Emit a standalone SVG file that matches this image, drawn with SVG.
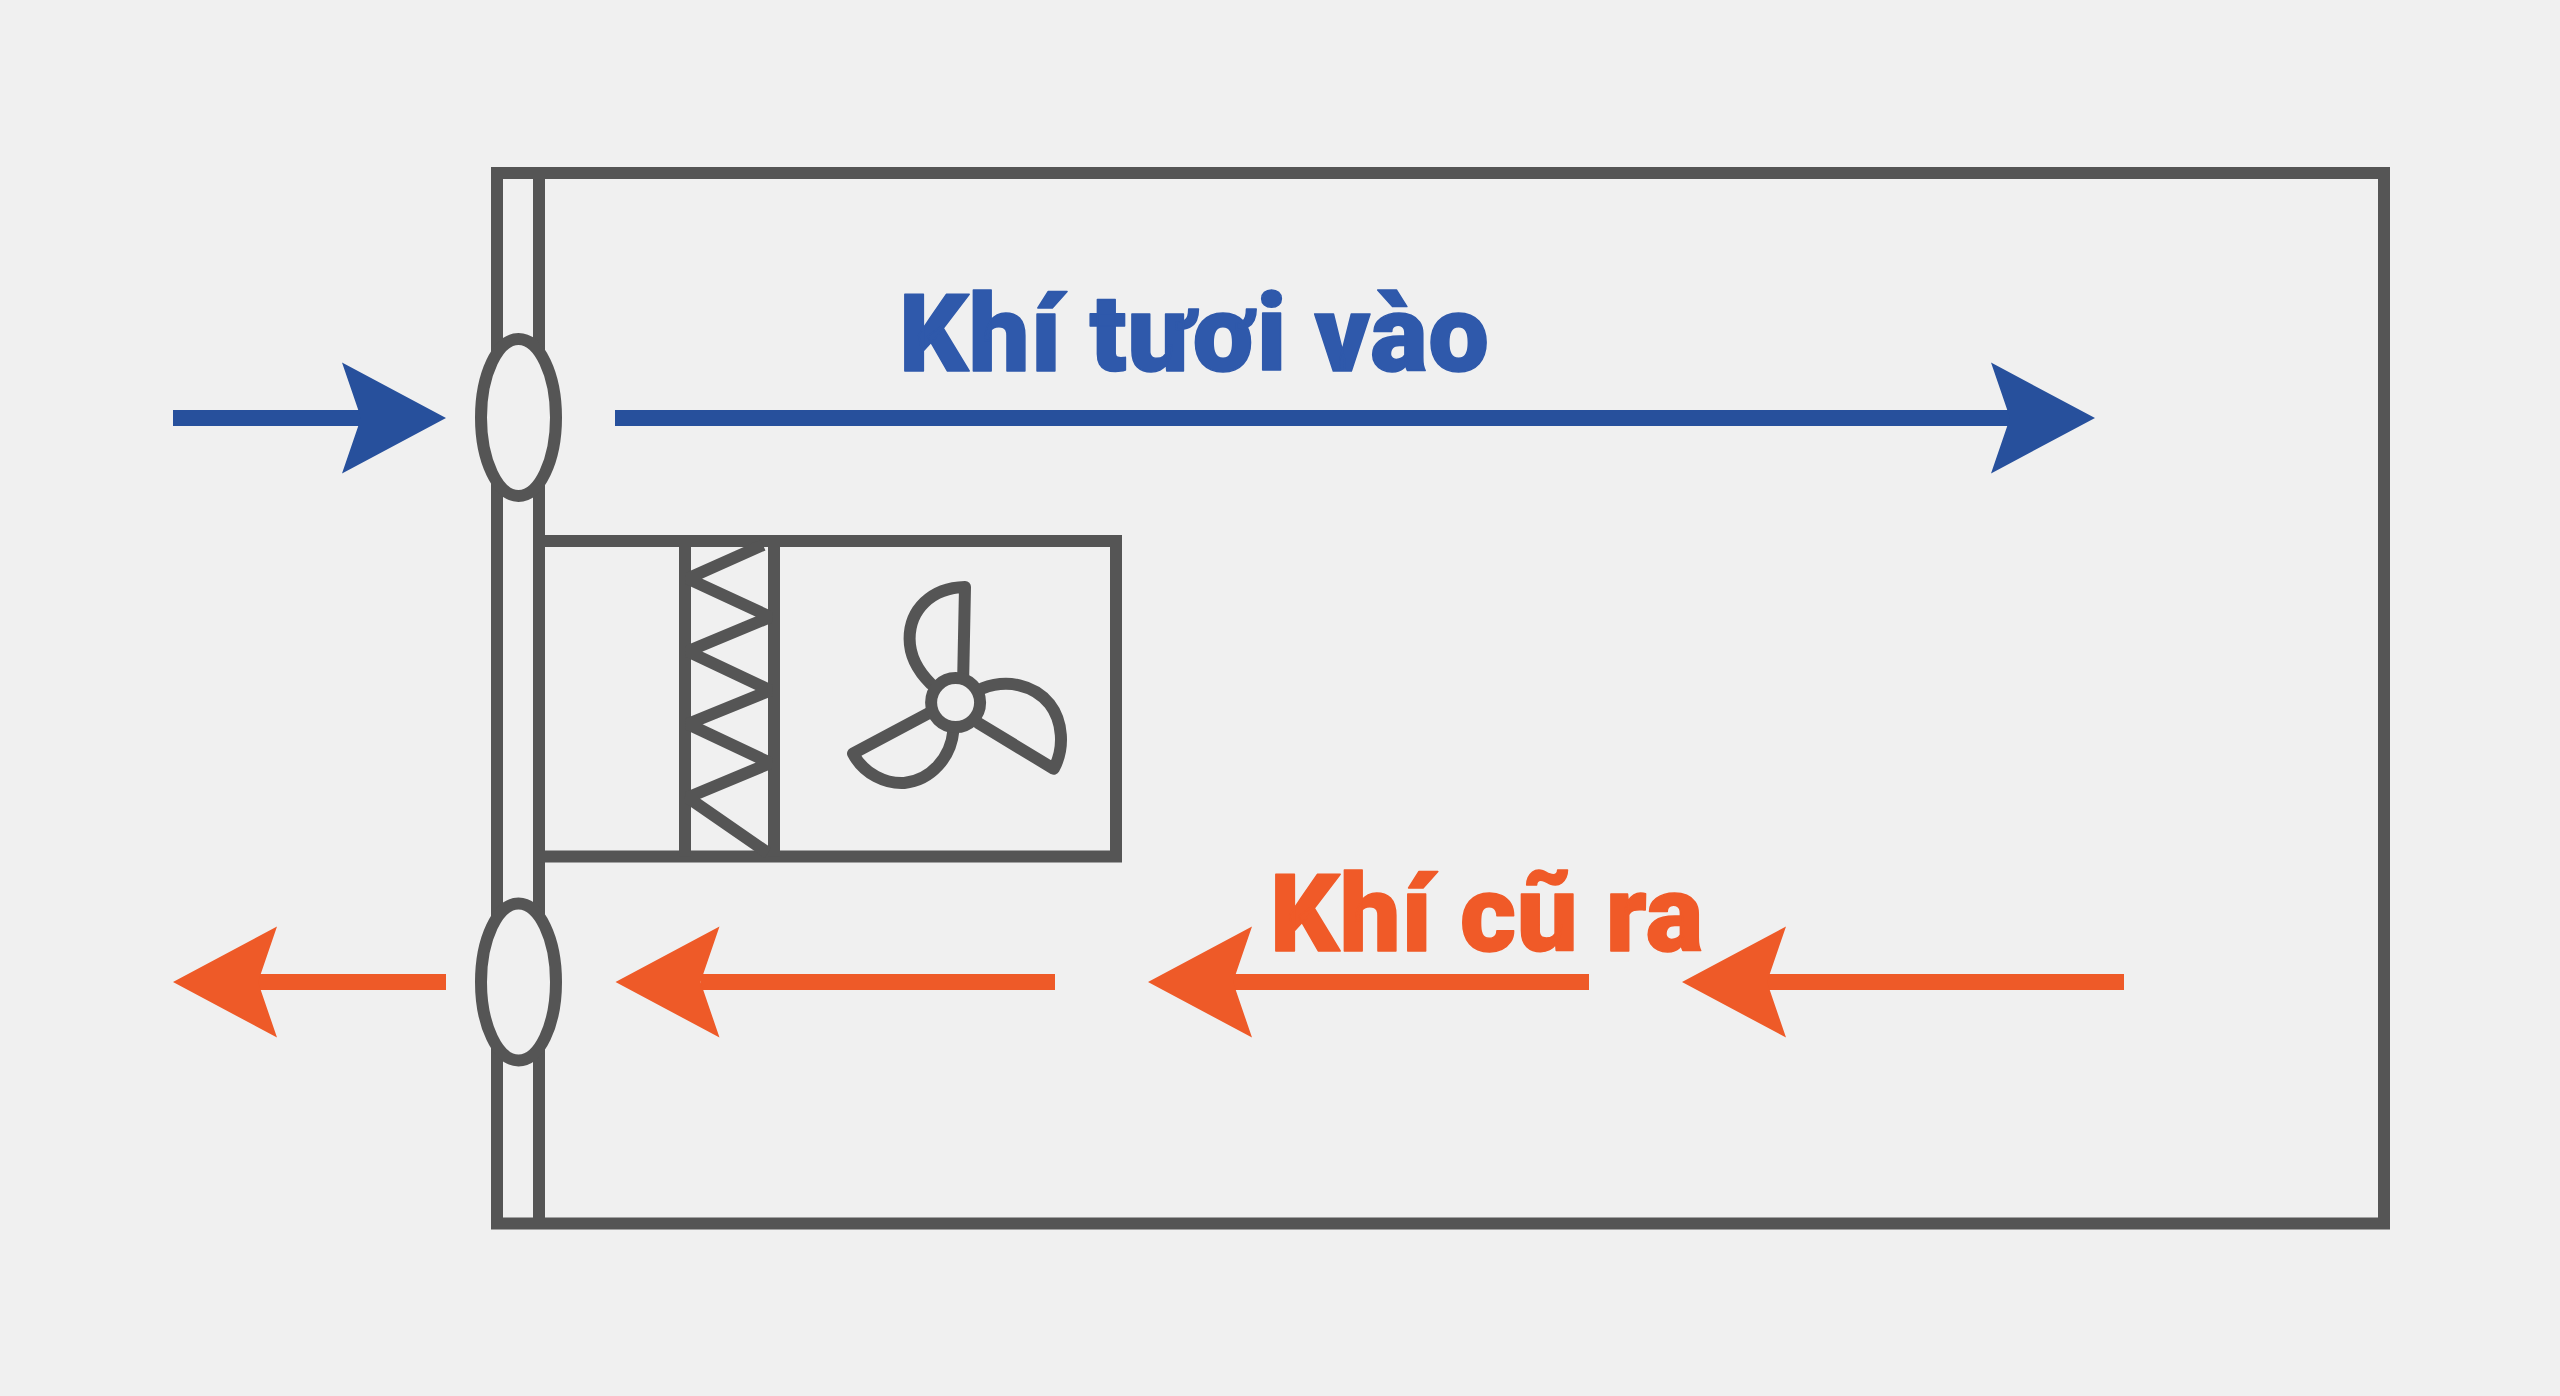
<svg xmlns="http://www.w3.org/2000/svg" width="2560" height="1396" viewBox="0 0 2560 1396">
<style>
.w{fill:none;stroke:#555;stroke-width:12;stroke-linejoin:miter;stroke-linecap:butt}
.z{fill:none;stroke:#555;stroke-width:12;stroke-linejoin:bevel;stroke-linecap:butt}
.f{fill:none;stroke:#555;stroke-width:12;stroke-linejoin:round;stroke-linecap:round}
.v{fill:#f0f0f0;stroke:#555;stroke-width:12}
.b{stroke:#27509c;stroke-width:16;fill:none}
.o{stroke:#ee5a28;stroke-width:16;fill:none}
.t{font-family:Roboto,"Liberation Sans",sans-serif;font-weight:900;font-size:108px;stroke-width:1.500;stroke-linejoin:round}
</style>
<defs>
<marker id="hb" markerUnits="userSpaceOnUse" viewBox="-20 -56 106 112" refX="0" refY="0" markerWidth="106" markerHeight="112" orient="auto"><path d="M85,0 L-19,-55.500 L0,0 L-19,55.500 Z" fill="#27509c"/></marker>
<marker id="ho" markerUnits="userSpaceOnUse" viewBox="-20 -56 106 112" refX="0" refY="0" markerWidth="106" markerHeight="112" orient="auto"><path d="M85,0 L-19,-55.500 L0,0 L-19,55.500 Z" fill="#ee5a28"/></marker>
</defs>
<rect width="2560" height="1396" fill="#f0f0f0"/>
<g id="room"><path class="w" d="M497,173 H2384 V1223.500 H497 Z M539,173 V1223.500"/></g>
<g id="unit">
<path class="w" d="M539,541 H1116 V856.500 H539"/>
<path class="w" d="M685,541 V856.500 M774,541 V856.500"/>
<path class="z" d="M763,545 L687.800,578.600 L770.400,616.900 L687.800,651.300 L770.400,690.400 L687.800,724 L770.400,763 L687.800,797.500 L768,853"/>
</g>
<g id="fan">
<path class="f" d="M963.200,677 L965,587 C931,587.800 909.600,610 909.600,638.700 C909.600,657.800 920,673 931,683.900"/>
<path class="f" d="M982.400,688.400 C1007,678.900 1033.800,684.600 1049.400,703.700 C1062.800,721 1065,747.800 1053.800,768.800 L978,722.900"/>
<path class="f" d="M930,712.500 L853,753.500 C864,774.600 886.400,784 904.300,783 C931,780.300 951,757.300 953.400,730.500"/>
<circle class="f" cx="955.600" cy="702.600" r="24.500"/>
</g>
<g id="vent-in"><ellipse class="v" cx="518.500" cy="417.500" rx="37.500" ry="78.500"/></g>
<g id="vent-out"><ellipse class="v" cx="518.500" cy="982" rx="37.500" ry="78.500"/></g>
<g id="connectors">
<line class="b" x1="173" y1="418" x2="361" y2="418" marker-end="url(#hb)"/>
<line class="b" x1="615" y1="418" x2="2010" y2="418" marker-end="url(#hb)"/>
<line class="o" x1="446" y1="982" x2="258" y2="982" marker-end="url(#ho)"/>
<line class="o" x1="1055" y1="982" x2="700.500" y2="982" marker-end="url(#ho)"/>
<line class="o" x1="1589" y1="982" x2="1233" y2="982" marker-end="url(#ho)"/>
<line class="o" x1="2124" y1="982" x2="1767" y2="982" marker-end="url(#ho)"/>
</g>
<g id="label-in"><text class="t" x="899" y="371" fill="#2f59ab" stroke="#2f59ab" textLength="590" lengthAdjust="spacing">Khí tươi vào</text></g>
<g id="label-out"><text class="t" x="1270" y="951" fill="#f05a28" stroke="#f05a28" textLength="433" lengthAdjust="spacing">Khí cũ ra</text></g>
</svg>
